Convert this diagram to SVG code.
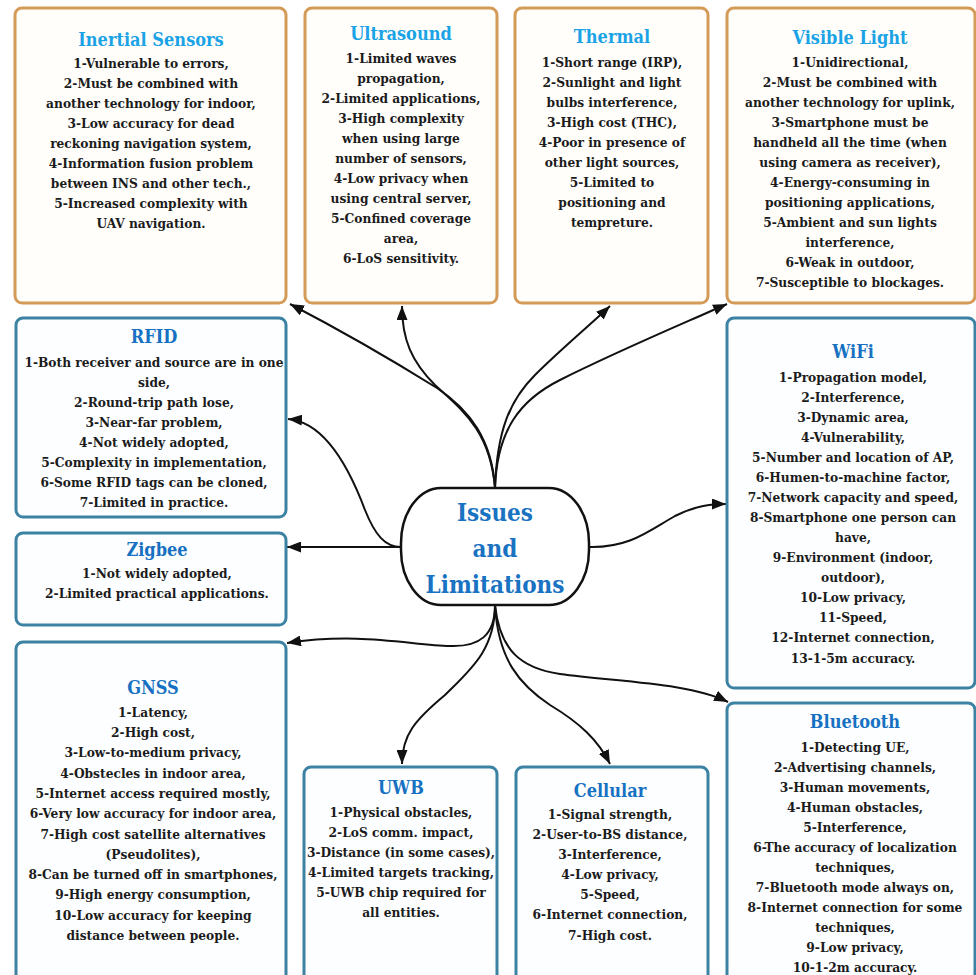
<svg xmlns="http://www.w3.org/2000/svg" width="976" height="975" viewBox="0 0 976 975">
  <style>
    .box-o { fill: #fffefb; stroke: #d49b58; stroke-width: 3; }
    .box-b { fill: #fdfeff; stroke: #3b82a3; stroke-width: 3; }
    text { font-family: 'DejaVu Serif Condensed', 'DejaVu Serif', serif; font-stretch: condensed; font-weight: bold; text-anchor: middle; }
    .t { font-size: 13.6px; fill: #1b1b1b; }
    .h { font-size: 18px; }
    .h-o { fill: #1ba3e6; }
    .h-b { fill: #1771c2; }
    .core { fill: #ffffff; stroke: #111111; stroke-width: 2.5; }
    .core-t { font-size: 24px; fill: #1a72c2; }
    .link { fill: none; stroke: #111111; stroke-width: 2; marker-end: url(#head); }
  </style>
  <defs>
    <marker id="head" markerUnits="userSpaceOnUse" markerWidth="15" markerHeight="11" refX="14" refY="5.5" orient="auto">
      <path d="M0,0 L14,5.5 L0,11 z" fill="#111111"/>
    </marker>
  </defs>

  <rect width="976" height="975" fill="#ffffff"/>

  <!-- connectors -->
  <g id="connectors">
    <path class="link" d="M495,488 C492,440 470,410 437,388 C400,365 340,330 290,304"/>
    <path class="link" d="M495,488 C490,430 462,410 435,385 C412,362 402,340 402,306"/>
    <path class="link" d="M495,488 C497,430 510,400 535,375 C560,350 590,325 610,306"/>
    <path class="link" d="M495,488 C497,430 520,400 560,380 C620,350 680,325 727,304"/>
    <path class="link" d="M401,547 C385,547 375,535 365,510 C350,470 325,422 288,419"/>
    <path class="link" d="M401,547 L287,547"/>
    <path class="link" d="M589,547 C630,548 650,530 675,516 C695,506 710,504 726,504"/>
    <path class="link" d="M495,605 C495,635 480,647 450,646 C410,645 360,632 287,643"/>
    <path class="link" d="M495,605 C495,650 470,670 445,695 C415,720 402,735 402,764"/>
    <path class="link" d="M495,605 C498,660 520,685 550,705 C580,723 598,740 610,764"/>
    <path class="link" d="M495,605 C500,650 520,668 560,674 C620,682 690,683 728,702"/>
  </g>

  <!-- central node -->
  <g id="issues">
    <rect class="core" x="401" y="488" width="188" height="117" rx="40" ry="55"/>
    <text class="core-t" x="495" y="521">Issues</text>
    <text class="core-t" x="495" y="557">and</text>
    <text class="core-t" x="495" y="593">Limitations</text>
  </g>

  <g id="inertial">
    <rect class="box-o" x="15" y="8" width="271" height="295" rx="7"/>
    <text class="h h-o" x="151" y="46">Inertial Sensors</text>
    <text class="t" x="151" y="68">1-Vulnerable to errors,</text>
    <text class="t" x="151" y="88">2-Must be combined with</text>
    <text class="t" x="151" y="108">another technology for indoor,</text>
    <text class="t" x="151" y="128">3-Low accuracy for dead</text>
    <text class="t" x="151" y="148">reckoning navigation system,</text>
    <text class="t" x="151" y="168">4-Information fusion problem</text>
    <text class="t" x="151" y="188">between INS and other tech.,</text>
    <text class="t" x="151" y="208">5-Increased complexity with</text>
    <text class="t" x="151" y="228">UAV navigation.</text>
  </g>

  <g id="ultrasound">
    <rect class="box-o" x="305" y="8" width="192" height="295" rx="7"/>
    <text class="h h-o" x="401" y="40">Ultrasound</text>
    <text class="t" x="401" y="63">1-Limited waves</text>
    <text class="t" x="401" y="83">propagation,</text>
    <text class="t" x="401" y="103">2-Limited applications,</text>
    <text class="t" x="401" y="123">3-High complexity</text>
    <text class="t" x="401" y="143">when using large</text>
    <text class="t" x="401" y="163">number of sensors,</text>
    <text class="t" x="401" y="183">4-Low privacy when</text>
    <text class="t" x="401" y="203">using central server,</text>
    <text class="t" x="401" y="223">5-Confined coverage</text>
    <text class="t" x="401" y="243">area,</text>
    <text class="t" x="401" y="263">6-LoS sensitivity.</text>
  </g>

  <g id="thermal">
    <rect class="box-o" x="515" y="8" width="193" height="295" rx="7"/>
    <text class="h h-o" x="612" y="43">Thermal</text>
    <text class="t" x="612" y="67">1-Short range (IRP),</text>
    <text class="t" x="612" y="87">2-Sunlight and light</text>
    <text class="t" x="612" y="107">bulbs interference,</text>
    <text class="t" x="612" y="127">3-High cost (THC),</text>
    <text class="t" x="612" y="147">4-Poor in presence of</text>
    <text class="t" x="612" y="167">other light sources,</text>
    <text class="t" x="612" y="187">5-Limited to</text>
    <text class="t" x="612" y="207">positioning and</text>
    <text class="t" x="612" y="227">tempreture.</text>
  </g>

  <g id="visible-light">
    <rect class="box-o" x="727" y="8" width="248" height="295" rx="7"/>
    <text class="h h-o" x="850" y="44">Visible Light</text>
    <text class="t" x="850" y="67">1-Unidirectional,</text>
    <text class="t" x="850" y="87">2-Must be combined with</text>
    <text class="t" x="850" y="107">another technology for uplink,</text>
    <text class="t" x="850" y="127">3-Smartphone must be</text>
    <text class="t" x="850" y="147">handheld all the time (when</text>
    <text class="t" x="850" y="167">using camera as receiver),</text>
    <text class="t" x="850" y="187">4-Energy-consuming in</text>
    <text class="t" x="850" y="207">positioning applications,</text>
    <text class="t" x="850" y="227">5-Ambient and sun lights</text>
    <text class="t" x="850" y="247">interference,</text>
    <text class="t" x="850" y="267">6-Weak in outdoor,</text>
    <text class="t" x="850" y="287">7-Susceptible to blockages.</text>
  </g>

  <g id="rfid">
    <rect class="box-b" x="16" y="318" width="270" height="199" rx="7"/>
    <text class="h h-b" x="154" y="343">RFID</text>
    <text class="t" x="154" y="367">1-Both receiver and source are in one</text>
    <text class="t" x="154" y="387">side,</text>
    <text class="t" x="154" y="407">2-Round-trip path lose,</text>
    <text class="t" x="154" y="427">3-Near-far problem,</text>
    <text class="t" x="154" y="447">4-Not widely adopted,</text>
    <text class="t" x="154" y="467">5-Complexity in implementation,</text>
    <text class="t" x="154" y="487">6-Some RFID tags can be cloned,</text>
    <text class="t" x="154" y="507">7-Limited in practice.</text>
  </g>

  <g id="zigbee">
    <rect class="box-b" x="16" y="533" width="270" height="92" rx="7"/>
    <text class="h h-b" x="157" y="556">Zigbee</text>
    <text class="t" x="157" y="578">1-Not widely adopted,</text>
    <text class="t" x="157" y="598">2-Limited practical applications.</text>
  </g>

  <g id="wifi">
    <rect class="box-b" x="727" y="318" width="248" height="370" rx="7"/>
    <text class="h h-b" x="853" y="358">WiFi</text>
    <text class="t" x="853" y="382">1-Propagation model,</text>
    <text class="t" x="853" y="402">2-Interference,</text>
    <text class="t" x="853" y="422">3-Dynamic area,</text>
    <text class="t" x="853" y="442">4-Vulnerability,</text>
    <text class="t" x="853" y="462">5-Number and location of AP,</text>
    <text class="t" x="853" y="482">6-Humen-to-machine factor,</text>
    <text class="t" x="853" y="502">7-Network capacity and speed,</text>
    <text class="t" x="853" y="522">8-Smartphone one person can</text>
    <text class="t" x="853" y="542">have,</text>
    <text class="t" x="853" y="562">9-Environment (indoor,</text>
    <text class="t" x="853" y="582">outdoor),</text>
    <text class="t" x="853" y="602">10-Low privacy,</text>
    <text class="t" x="853" y="622">11-Speed,</text>
    <text class="t" x="853" y="642">12-Internet connection,</text>
    <text class="t" x="853" y="663">13-1-5m accuracy.</text>
  </g>

  <g id="gnss">
    <rect class="box-b" x="16" y="642" width="270" height="350" rx="7"/>
    <text class="h h-b" x="153" y="694">GNSS</text>
    <text class="t" x="153" y="717">1-Latency,</text>
    <text class="t" x="153" y="737">2-High cost,</text>
    <text class="t" x="153" y="757">3-Low-to-medium privacy,</text>
    <text class="t" x="153" y="778">4-Obstecles in indoor area,</text>
    <text class="t" x="153" y="798">5-Internet access required mostly,</text>
    <text class="t" x="153" y="818">6-Very low accuracy for indoor area,</text>
    <text class="t" x="153" y="839">7-High cost satellite alternatives</text>
    <text class="t" x="153" y="859">(Pseudolites),</text>
    <text class="t" x="153" y="879">8-Can be turned off in smartphones,</text>
    <text class="t" x="153" y="899">9-High energy consumption,</text>
    <text class="t" x="153" y="920">10-Low accuracy for keeping</text>
    <text class="t" x="153" y="940">distance between people.</text>
  </g>

  <g id="uwb">
    <rect class="box-b" x="304" y="767" width="193" height="230" rx="7"/>
    <text class="h h-b" x="401" y="794">UWB</text>
    <text class="t" x="401" y="817">1-Physical obstacles,</text>
    <text class="t" x="401" y="837">2-LoS comm. impact,</text>
    <text class="t" x="401" y="857">3-Distance (in some cases),</text>
    <text class="t" x="401" y="877">4-Limited targets tracking,</text>
    <text class="t" x="401" y="897">5-UWB chip required for</text>
    <text class="t" x="401" y="917">all entities.</text>
  </g>

  <g id="cellular">
    <rect class="box-b" x="516" y="767" width="192" height="230" rx="7"/>
    <text class="h h-b" x="610" y="797">Cellular</text>
    <text class="t" x="610" y="819">1-Signal strength,</text>
    <text class="t" x="610" y="839">2-User-to-BS distance,</text>
    <text class="t" x="610" y="859">3-Interference,</text>
    <text class="t" x="610" y="879">4-Low privacy,</text>
    <text class="t" x="610" y="899">5-Speed,</text>
    <text class="t" x="610" y="919">6-Internet connection,</text>
    <text class="t" x="610" y="940">7-High cost.</text>
  </g>

  <g id="bluetooth">
    <rect class="box-b" x="727" y="703" width="248" height="290" rx="7"/>
    <text class="h h-b" x="855" y="728">Bluetooth</text>
    <text class="t" x="855" y="752">1-Detecting UE,</text>
    <text class="t" x="855" y="772">2-Advertising channels,</text>
    <text class="t" x="855" y="792">3-Human movements,</text>
    <text class="t" x="855" y="812">4-Human obstacles,</text>
    <text class="t" x="855" y="832">5-Interference,</text>
    <text class="t" x="855" y="852">6-The accuracy of localization</text>
    <text class="t" x="855" y="872">techniques,</text>
    <text class="t" x="855" y="892">7-Bluetooth mode always on,</text>
    <text class="t" x="855" y="912">8-Internet connection for some</text>
    <text class="t" x="855" y="932">techniques,</text>
    <text class="t" x="855" y="952">9-Low privacy,</text>
    <text class="t" x="855" y="972">10-1-2m accuracy.</text>
  </g>
</svg>
